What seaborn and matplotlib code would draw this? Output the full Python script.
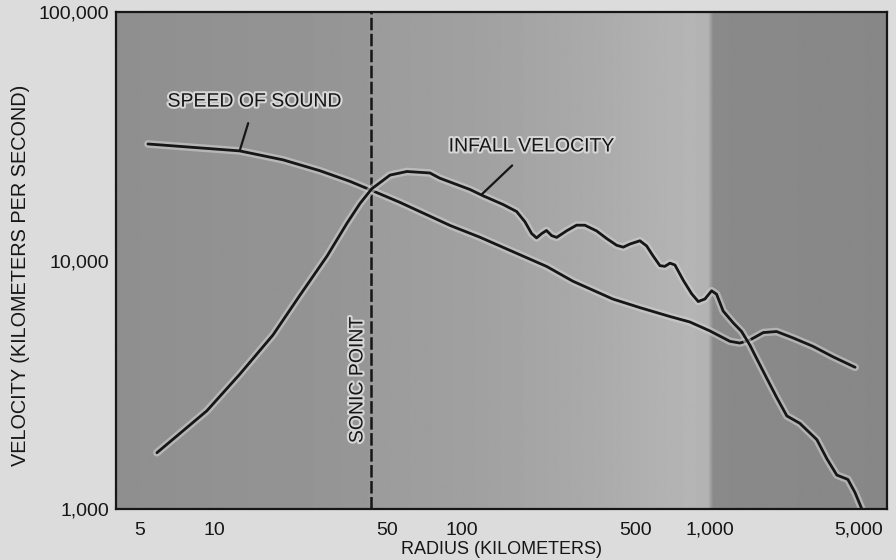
import numpy as np
import matplotlib
matplotlib.use("Agg")
import matplotlib.pyplot as plt
import matplotlib.patheffects as pe
from matplotlib.ticker import FixedLocator, FixedFormatter, NullLocator
import seaborn as sns
import pandas as pd

# ---- data ----
sound_radius = [5.42, 12.7, 19.0, 26.7, 35.3, 42.6, 56.2, 89.6, 118, 220, 280, 406, 522,
                690, 830, 1000, 1205, 1321, 1449, 1641, 1857, 2162, 2600, 3134, 3850]
sound_velocity = [29450, 27620, 25420, 23000, 20840, 19280, 17150, 13840, 12420, 9460,
                  8260, 7000, 6465, 5953, 5660, 5210, 4730, 4655, 4788, 5130, 5180, 4885,
                  4520, 4100, 3720]

infall_radius = [5.89, 9.37, 12.7, 17.3, 22.2, 28.6, 34.4, 38.8, 43.3, 51.3, 60.0, 74.3,
                 81.5, 107.7, 121.9, 146.7, 166.2, 179.5, 191, 200, 209.6, 219.3, 230.0,
                 241.0, 264.4, 290.1, 313.3, 349.2, 383.2, 420.6, 447.2, 475.8, 522.1,
                 555.6, 590.8, 628.7, 658.5, 689.9, 722.6, 780.4, 843.8, 897.4, 954.5,
                 1016, 1064, 1131, 1242, 1342, 1449, 1543, 1698, 1862, 2043, 2305, 2700,
                 2964, 3250, 3600, 3846, 4100]
infall_velocity = [1685, 2486, 3483, 5015, 7240, 10430, 14130, 16960, 19440, 22070, 22820,
                   22510, 21440, 19320, 18210, 16800, 15750, 14330, 12850, 12330, 12830,
                   13210, 12600, 12390, 13170, 13880, 13870, 13160, 12270, 11520, 11320,
                   11650, 12010, 11450, 10420, 9537, 9476, 9760, 9600, 8337, 7355, 6840,
                   7000, 7555, 7320, 6263, 5613, 5183, 4570, 4037, 3350, 2805, 2370, 2213,
                   1902, 1592, 1370, 1316, 1166, 1000]

sonic_point = 43
x_ticks = [5, 10, 50, 100, 500, 1000, 5000]
x_tick_labels = ["5", "10", "50", "100", "500", "1,000", "5,000"]
y_ticks = [1000, 10000, 100000]
y_tick_labels = ["1,000", "10,000", "100,000"]

sns.set_theme(style="white")
plt.rcParams["font.family"] = ["Liberation Sans", "DejaVu Sans"]
plt.rcParams["lines.scale_dashes"] = False

INK = "#161616"
PAGE = "#dcdcdc"

fig = plt.figure(figsize=(8.96, 5.6), dpi=100, facecolor=PAGE)
pos = [0.1295, 0.091, 0.8605, 0.8875]

# background shading (scan-like tones)
bg = fig.add_axes(pos, zorder=0)
px = np.linspace(117, 887, 771)
stops_px = [117, 300, 368, 372, 480, 600, 690, 708, 713, 887]
stops_v = [0.56, 0.58, 0.59, 0.61, 0.63, 0.67, 0.71, 0.70, 0.54, 0.53]
row = np.interp(px, stops_px, stops_v)
bg.imshow(np.tile(row, (10, 1)), cmap="gray", vmin=0, vmax=1, aspect="auto",
          extent=[0, 1, 0, 1], interpolation="bilinear")
bg.set_axis_off()

ax = fig.add_axes(pos, zorder=1)
ax.set_facecolor("none")
ax.set_xscale("log")
ax.set_yscale("log")
ax.set_xlim(4.03, 5180)
ax.set_ylim(1000, 100000)

halo = [pe.withStroke(linewidth=5.5, foreground="#d0d0d0", alpha=0.6)]

df_s = pd.DataFrame({"radius": sound_radius, "velocity": sound_velocity})
df_i = pd.DataFrame({"radius": infall_radius, "velocity": infall_velocity})
sns.lineplot(data=df_s, x="radius", y="velocity", ax=ax, color=INK, lw=2.0,
             sort=False, estimator=None, path_effects=halo)
sns.lineplot(data=df_i, x="radius", y="velocity", ax=ax, color=INK, lw=2.0,
             sort=False, estimator=None, path_effects=halo)
for ln in ax.get_lines():
    ln.set_solid_joinstyle("round")
    ln.set_solid_capstyle("round")

ax.axvline(sonic_point, color=INK, lw=1.8, linestyle=(0, (9, 2.5)), zorder=1.5)

ax.xaxis.set_major_locator(FixedLocator(x_ticks))
ax.xaxis.set_major_formatter(FixedFormatter(x_tick_labels))
ax.yaxis.set_major_locator(FixedLocator(y_ticks))
ax.yaxis.set_major_formatter(FixedFormatter(y_tick_labels))
ax.xaxis.set_minor_locator(NullLocator())
ax.yaxis.set_minor_locator(NullLocator())
ax.tick_params(axis="x", length=0, pad=9, labelsize=14, labelcolor=INK)
ax.tick_params(axis="y", length=0, pad=5, labelsize=14, labelcolor=INK)
ax.get_xticklabels()[-1].set_horizontalalignment("right")

for s in ax.spines.values():
    s.set_visible(True)
    s.set_color(INK)
    s.set_linewidth(1.6)

ax.set_xlabel("RADIUS (KILOMETERS)", fontsize=13, color=INK, labelpad=2)
ax.set_ylabel("VELOCITY (KILOMETERS PER SECOND)", fontsize=14.3, color=INK)
ax.yaxis.set_label_coords(-0.112, 0.471)

txt_halo = [pe.withStroke(linewidth=3, foreground="#d6d6d6")]
ax.annotate("SPEED OF SOUND", xy=(12.7, 27620), xytext=(14.6, 43400),
            ha="center", va="center", fontsize=14, color=INK, path_effects=txt_halo,
            arrowprops=dict(arrowstyle="-", color=INK, lw=1.6, shrinkA=7, shrinkB=0))
ax.annotate("INFALL VELOCITY", xy=(120.5, 18500), xytext=(191, 28640),
            ha="center", va="center", fontsize=14, color=INK, path_effects=txt_halo,
            arrowprops=dict(arrowstyle="-", color=INK, lw=1.6, shrinkA=7, shrinkB=0))
ax.text(38.1, 3310, "SONIC POINT", rotation=90, ha="center", va="center",
        fontsize=14, color=INK, path_effects=txt_halo)

fig.savefig("out.png", dpi=100, facecolor=PAGE)
